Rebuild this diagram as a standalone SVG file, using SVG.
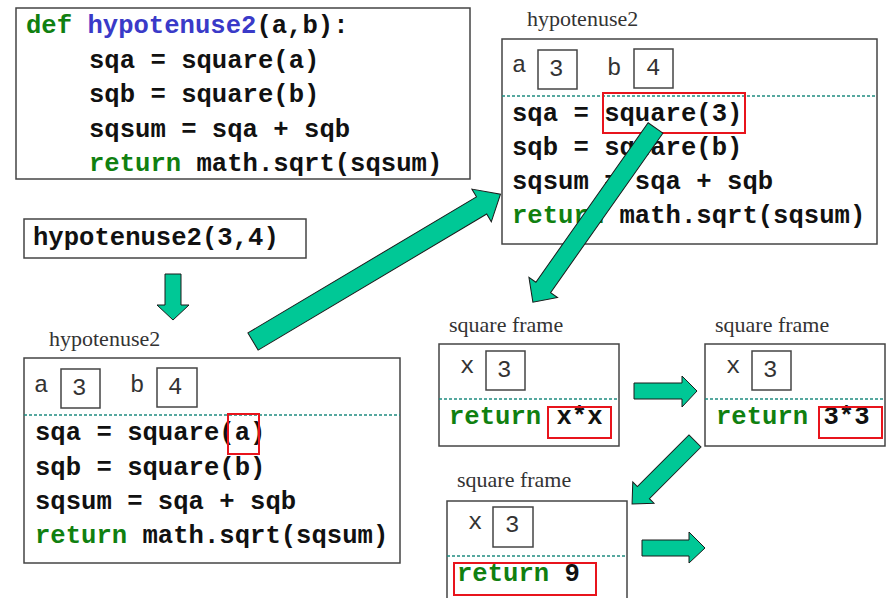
<svg xmlns="http://www.w3.org/2000/svg" width="892" height="598" viewBox="0 0 892 598">
  <defs>
    <style>
      .code { font-family: "Liberation Mono", "Courier New", monospace; font-weight: bold; font-size: 25.6px; fill: #111; white-space: pre; }
      .kw { fill: #108010; }
      .fn { fill: #3a3ac8; }
      .var { font-family: "Liberation Mono", "Courier New", monospace; font-size: 24px; fill: #333; }
      .label { font-family: "Liberation Serif", "Times New Roman", serif; font-size: 22px; fill: #333; }
      .box { fill: #fff; stroke: #444; stroke-width: 1.5; }
      .cell { fill: none; stroke: #444; stroke-width: 1.5; }
      .sep { stroke: #1f8c80; stroke-width: 1.3; stroke-dasharray: 3 2; }
      .hl { fill: none; stroke: #e8141c; stroke-width: 2; }
      .arrow { fill: #00c896; stroke: #1a1a1a; stroke-width: 1; stroke-linejoin: miter; }
    </style>
  </defs>
  <rect width="892" height="598" fill="#fff"/>

  <!-- function definition -->
  <g id="definition">
    <rect class="box" x="16" y="8" width="454" height="171"/>
    <text class="code" x="26" y="33"><tspan class="kw">def</tspan> <tspan class="fn">hypotenuse2</tspan>(a,b):</text>
    <text class="code" x="89" y="68">sqa = square(a)</text>
    <text class="code" x="89" y="102">sqb = square(b)</text>
    <text class="code" x="89" y="137">sqsum = sqa + sqb</text>
    <text class="code" x="89" y="171"><tspan class="kw">return</tspan> math.sqrt(sqsum)</text>
  </g>

  <!-- call expression -->
  <g id="call">
    <rect class="box" x="24" y="219" width="282" height="39"/>
    <text class="code" x="33" y="245">hypotenuse2(3,4)</text>
  </g>

  <!-- first hypotenuse2 frame -->
  <g id="frame-hyp-1">
    <text class="label" x="49" y="346">hypotenuse2</text>
    <rect class="box" x="24" y="358" width="376" height="205"/>
    <text class="var" x="34" y="392">a</text>
    <rect class="cell" x="61" y="369" width="39" height="39"/>
    <text class="var" x="72" y="395">3</text>
    <text class="var" x="130" y="392">b</text>
    <rect class="cell" x="157" y="368" width="40" height="39"/>
    <text class="var" x="168" y="394">4</text>
    <line class="sep" x1="24" y1="415" x2="400" y2="415"/>
    <text class="code" x="35" y="440">sqa = square(a)</text>
    <text class="code" x="35" y="475">sqb = square(b)</text>
    <text class="code" x="35" y="509">sqsum = sqa + sqb</text>
    <text class="code" x="35" y="543"><tspan class="kw">return</tspan> math.sqrt(sqsum)</text>
    <rect class="hl" x="228" y="414" width="31" height="40"/>
  </g>

  <!-- second hypotenuse2 frame -->
  <g id="frame-hyp-2">
    <text class="label" x="527" y="26">hypotenuse2</text>
    <rect class="box" x="502" y="39" width="375" height="205"/>
    <text class="var" x="512" y="72">a</text>
    <rect class="cell" x="538" y="50" width="39" height="39"/>
    <text class="var" x="549" y="76">3</text>
    <text class="var" x="607" y="75">b</text>
    <rect class="cell" x="634" y="49" width="39" height="39"/>
    <text class="var" x="646" y="75">4</text>
    <line class="sep" x1="502" y1="96" x2="877" y2="96"/>
    <text class="code" x="512" y="121">sqa = square(3)</text>
    <text class="code" x="512" y="155">sqb = square(b)</text>
    <text class="code" x="512" y="189">sqsum = sqa + sqb</text>
    <text class="code" x="512" y="223"><tspan class="kw">return</tspan> math.sqrt(sqsum)</text>
    <rect class="hl" x="603" y="93" width="142" height="40"/>
  </g>

  <!-- square frame: x*x -->
  <g id="frame-square-1">
    <text class="label" x="449" y="332">square frame</text>
    <rect class="box" x="439" y="344" width="180" height="102"/>
    <text class="var" x="460" y="373">x</text>
    <rect class="cell" x="486" y="351" width="39" height="39"/>
    <text class="var" x="497" y="377">3</text>
    <line class="sep" x1="439" y1="399" x2="619" y2="399"/>
    <text class="code" x="449" y="424"><tspan class="kw">return</tspan> x*x</text>
    <rect class="hl" x="548" y="407" width="63" height="31"/>
  </g>

  <!-- square frame: 3*3 -->
  <g id="frame-square-2">
    <text class="label" x="715" y="332">square frame</text>
    <rect class="box" x="705" y="344" width="180" height="102"/>
    <text class="var" x="726" y="373">x</text>
    <rect class="cell" x="752" y="351" width="39" height="39"/>
    <text class="var" x="763" y="377">3</text>
    <line class="sep" x1="705" y1="399" x2="885" y2="399"/>
    <text class="code" x="716" y="424"><tspan class="kw">return</tspan> 3*3</text>
    <rect class="hl" x="819" y="407" width="63" height="31"/>
  </g>

  <!-- square frame: return 9 -->
  <g id="frame-square-3">
    <text class="label" x="457" y="487">square frame</text>
    <rect class="box" x="447" y="501" width="180" height="110"/>
    <text class="var" x="468" y="529">x</text>
    <rect class="cell" x="493" y="507" width="40" height="40"/>
    <text class="var" x="505" y="532">3</text>
    <line class="sep" x1="447" y1="556" x2="627" y2="556"/>
    <text class="code" x="457" y="581"><tspan class="kw">return</tspan> 9</text>
    <rect class="hl" x="454" y="563" width="142" height="32"/>
  </g>

  <!-- block arrows between steps -->
  <g id="connectors">
    <polygon class="arrow" points="165,274 181,274 181,305 189,305 173,320 157,305 165,305"/>
    <polygon class="arrow" transform="translate(253,341.5) rotate(-30.76)" points="0,-10 266,-10 266,-19 288,0 266,19 266,10 0,10"/>
    <polygon class="arrow" transform="translate(655.5,128) rotate(125.15)" points="0,-9 195,-9 195,-17.5 213,0 195,17.5 195,9 0,9"/>
    <polygon class="arrow" points="634,383 682,383 682,376 697,391 682,407 682,399 634,399"/>
    <polygon class="arrow" transform="translate(695,441) rotate(135)" points="0,-8.5 73,-8.5 73,-15 89,0 73,15 73,8.5 0,8.5"/>
    <polygon class="arrow" points="642,540 689,540 689,532 705,548 689,563 689,556 642,556"/>
  </g>
</svg>
